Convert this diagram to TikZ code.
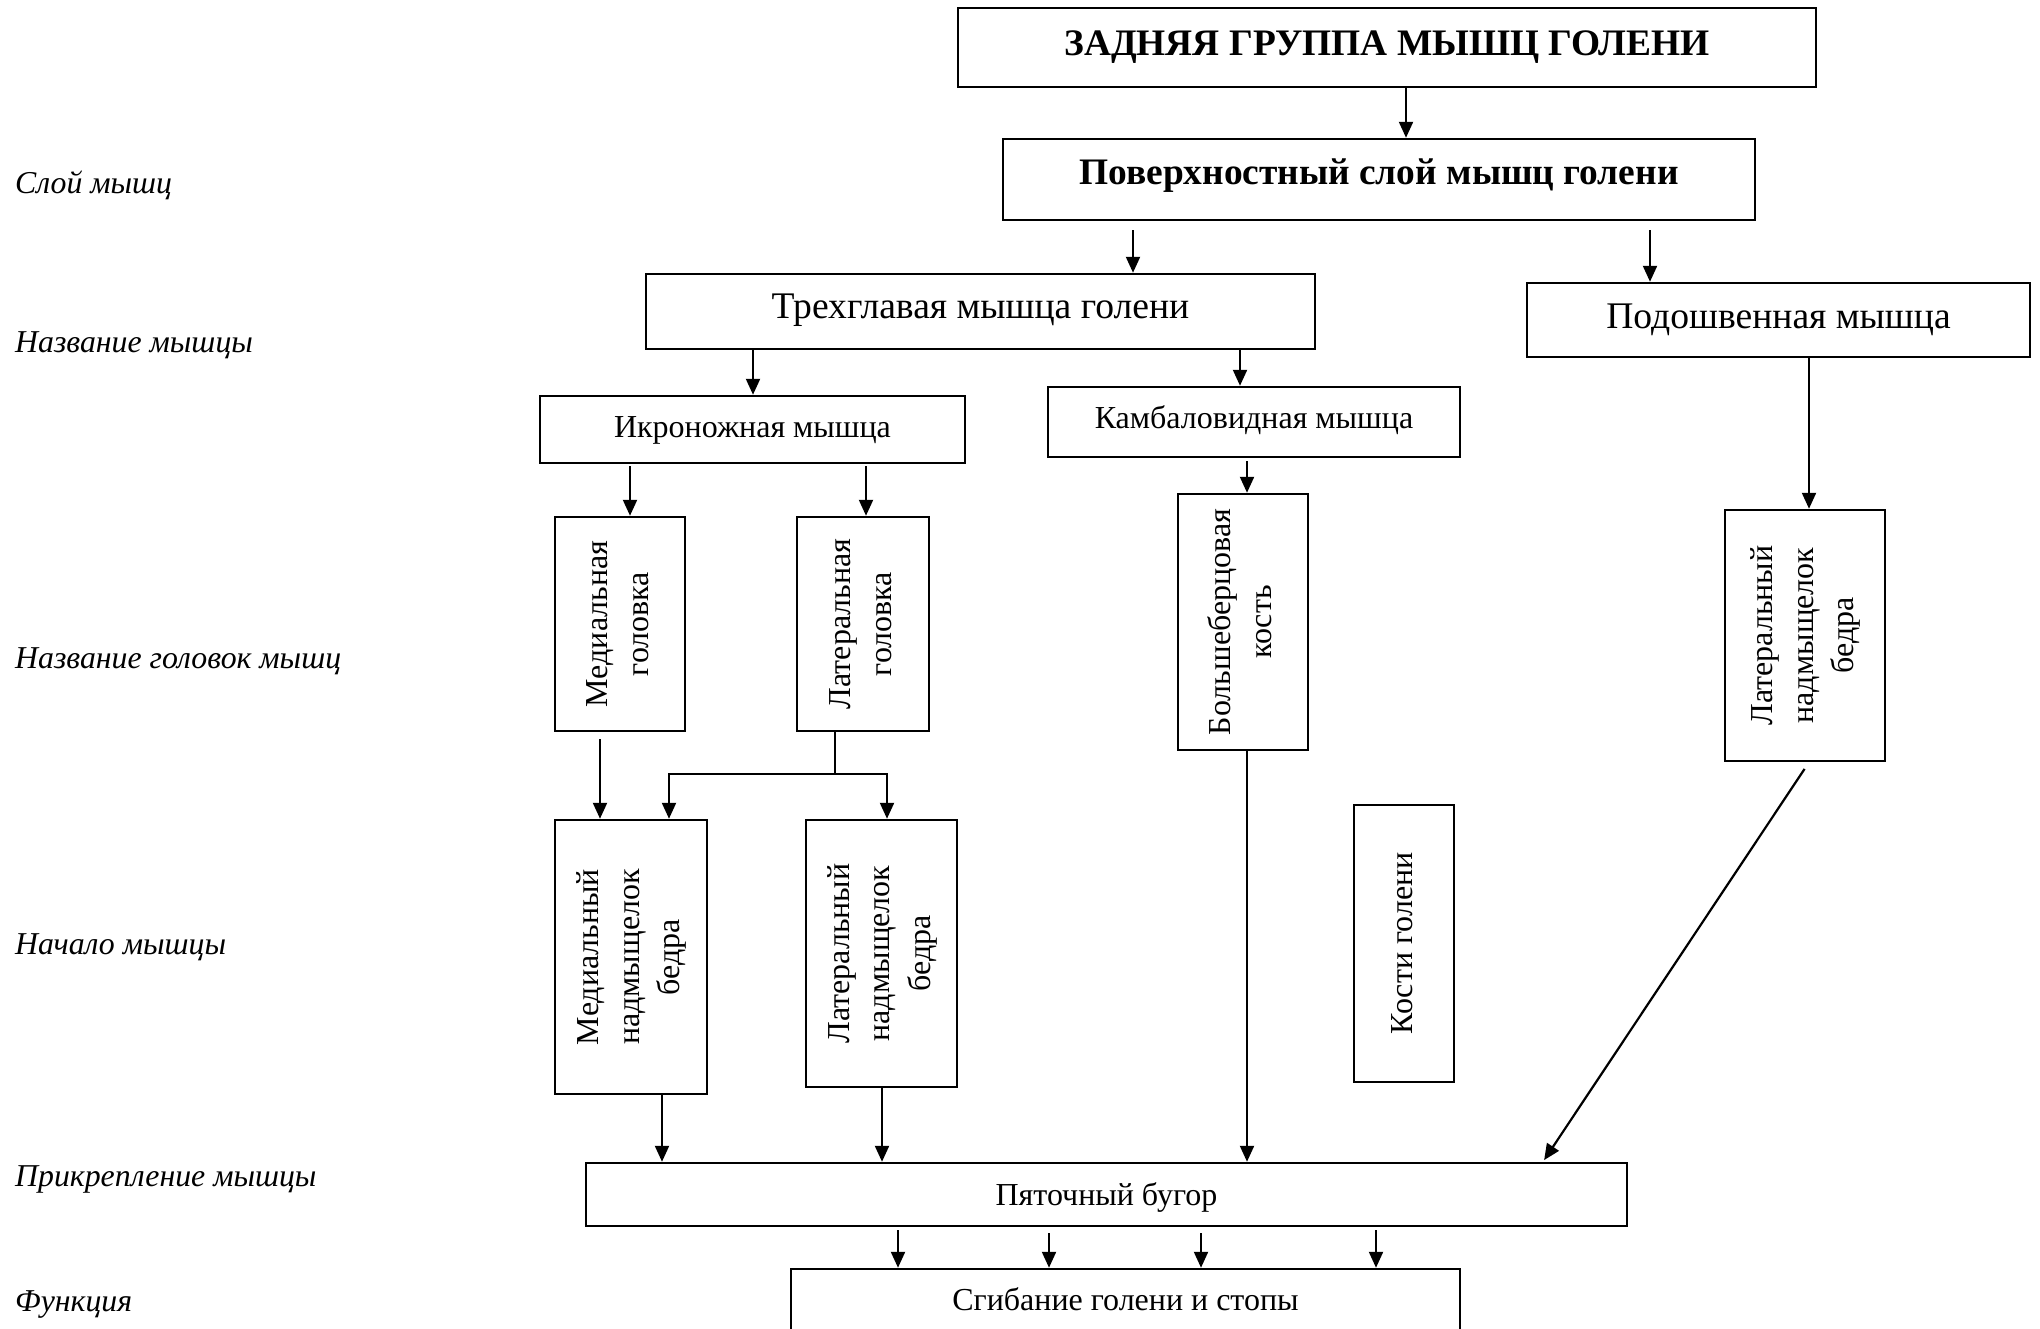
\documentclass[tikz,border=0pt]{standalone}
\usepackage{fontspec}
\usepackage{graphicx}
\setmainfont{Liberation Serif}
\usetikzlibrary{arrows.meta}
% text set sideways, reading upwards, one or more centred lines
\newcommand\uprot[1]{\rotatebox{90}{\begin{tabular}{@{}c@{}}#1\end{tabular}}}
\begin{document}
\begin{tikzpicture}[x=1pt,y=-1pt,
  box/.style={draw, line width=2.5pt, inner sep=0pt},
  arr/.style={line width=2.2pt, -{Triangle[length=16pt,width=14pt]}},
  link/.style={line width=2.2pt},
  lbl/.style={anchor=base west, inner sep=0pt, font=\itshape\fontsize{31.8}{38}\selectfont},
  txt/.style={font=\fontsize{32}{40.5}\selectfont},
  bigtxt/.style={font=\fontsize{37.6}{44}\selectfont},
  headtxt/.style={font=\bfseries\fontsize{37.4}{44}\selectfont}]
\useasboundingbox (0,0) rectangle (2040,1328);
\clip (0,0) rectangle (2040,1328);
\fill[white] (0,0) rectangle (2040,1328);

% row captions on the left
\node[lbl] (cap1) at (15,193) {Слой мышц};
\node[lbl] (cap2) at (15,352) {Название мышцы};
\node[lbl] (cap3) at (15,668) {Название головок мышц};
\node[lbl] (cap4) at (15,954) {Начало мышцы};
\node[lbl] (cap5) at (15,1186) {Прикрепление мышцы};
\node[lbl] (cap6) at (15,1311) {Функция};

% boxes
\node[box, headtxt, minimum width=858pt, minimum height=79pt, text height=26pt, text depth=11pt] (title) at (1387,47.5) {ЗАДНЯЯ ГРУППА МЫШЦ ГОЛЕНИ};
\node[box, headtxt, minimum width=752pt, minimum height=81pt, text height=26pt, text depth=17pt] (layer) at (1379,179.5) {Поверхностный слой мышц голени};
\node[box, bigtxt, minimum width=669pt, minimum height=75pt, text height=26pt, text depth=13pt] (triceps) at (980.5,311.5) {Трехглавая мышца голени};
\node[box, bigtxt, minimum width=503pt, minimum height=74pt, text height=26pt, text depth=10pt] (plantaris) at (1778.5,320) {Подошвенная мышца};
\node[box, txt, minimum width=425pt, minimum height=67pt, text height=22pt, text depth=7pt] (gastro) at (752.5,429.5) {Икроножная мышца};
\node[box, txt, minimum width=412pt, minimum height=70pt, text height=22pt, text depth=10pt] (soleus) at (1254,422) {Камбаловидная мышца};
\node[box, txt, minimum width=130pt, minimum height=214pt] (medhead) at (620,624) {\uprot{Медиальная\\головка}};
\node[box, txt, minimum width=132pt, minimum height=214pt] (lathead) at (863,624) {\uprot{Латеральная\\головка}};
\node[box, txt, minimum width=130pt, minimum height=256pt] (tibia) at (1243,622) {\uprot{Большеберцовая\\кость}};
\node[box, txt, minimum width=160pt, minimum height=251pt] (latcondR) at (1805,635.5) {\uprot{Латеральный\\надмыщелок\\бедра}};
\node[box, txt, minimum width=152pt, minimum height=274pt] (medcond) at (631,957) {\uprot{Медиальный\\надмыщелок\\бедра}};
\node[box, txt, minimum width=151pt, minimum height=267pt] (latcond) at (881.5,953.5) {\uprot{Латеральный\\надмыщелок\\бедра}};
\node[box, txt, minimum width=100pt, minimum height=277pt] (bones) at (1404,943.5) {\uprot{Кости голени}};
\node[box, txt, minimum width=1041pt, minimum height=63pt, text height=22pt, text depth=1pt] (tuber) at (1106.5,1194.5) {Пяточный бугор};
\node[box, txt, minimum width=669pt, minimum height=70pt, text height=22pt, text depth=10pt] (flex) at (1125.5,1304) {Сгибание голени и стопы};

% connectors
\draw[arr] (1406,0 |- title.south) -- (1406,0 |- layer.north);
\draw[arr, shorten <=9pt] (1133,0 |- layer.south) -- (1133,0 |- triceps.north);
\draw[arr, shorten <=9pt] (1650,0 |- layer.south) -- (1650,0 |- plantaris.north);
\draw[arr] (753,0 |- triceps.south) -- (753,0 |- gastro.north);
\draw[arr] (1240,0 |- triceps.south) -- (1240,0 |- soleus.north);
\draw[arr, shorten <=2pt] (630,0 |- gastro.south) -- (630,0 |- medhead.north);
\draw[arr, shorten <=2pt] (866,0 |- gastro.south) -- (866,0 |- lathead.north);
\draw[arr, shorten <=3pt] (1247,0 |- soleus.south) -- (1247,0 |- tibia.north);
\draw[arr] (1809,0 |- plantaris.south) -- (1809,0 |- latcondR.north);
\draw[arr, shorten <=7pt] (600,0 |- medhead.south) -- (600,0 |- medcond.north);
\coordinate (split) at (835,774);
\draw[link] (835,0 |- lathead.south) -- (split);
\draw[arr] (split) -| (669,0 |- medcond.north);
\draw[arr] (split) -| (887,0 |- latcond.north);
\draw[arr] (662,0 |- medcond.south) -- (662,0 |- tuber.north);
\draw[arr] (882,0 |- latcond.south) -- (882,0 |- tuber.north);
\draw[arr] (1247,0 |- tibia.south) -- (1247,0 |- tuber.north);
\draw[arr, shorten <=8pt, shorten >=2pt] (1809,0 |- latcondR.south) -- (1543,0 |- tuber.north);
\foreach \x/\g in {898/3, 1049/6, 1201/6, 1376/3}
  \draw[arr, shorten <=\g pt] (\x,0 |- tuber.south) -- (\x,0 |- flex.north);
\end{tikzpicture}
\end{document}
